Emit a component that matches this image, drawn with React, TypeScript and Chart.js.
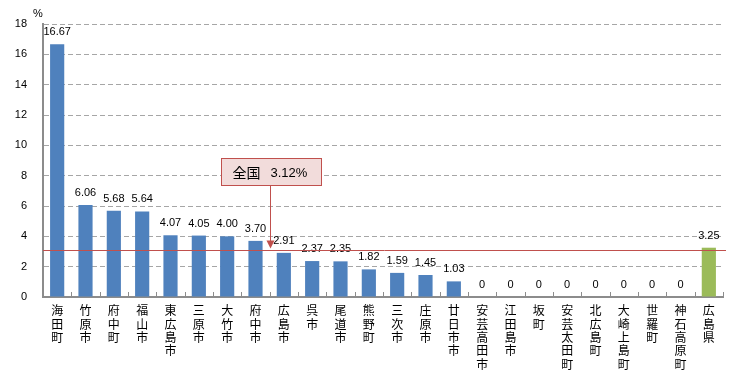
import React, { useEffect, useRef } from "react";
import { Chart, registerables } from "chart.js";

Chart.register(...registerables);

const categories = [
  "海田町", "竹原市", "府中町", "福山市", "東広島市", "三原市", "大竹市", "府中市",
  "広島市", "呉市", "尾道市", "熊野町", "三次市", "庄原市", "廿日市市", "安芸高田市",
  "江田島市", "坂町", "安芸太田町", "北広島町", "大崎上島町", "世羅町", "神石高原町", "広島県",
];
const values = [
  16.67, 6.06, 5.68, 5.64, 4.07, 4.05, 4.0, 3.7, 2.91, 2.37, 2.35, 1.82, 1.59, 1.45, 1.03,
  0, 0, 0, 0, 0, 0, 0, 0, 3.25,
];
const valueLabels = [
  "16.67", "6.06", "5.68", "5.64", "4.07", "4.05", "4.00", "3.70", "2.91", "2.37", "2.35",
  "1.82", "1.59", "1.45", "1.03", "0", "0", "0", "0", "0", "0", "0", "0", "3.25",
];
const nationalAverage = 3.12;
const nationalLabelName = "全国";
const nationalLabelValue = "3.12%";
const unitLabel = "%";
const yTicks = [0, 2, 4, 6, 8, 10, 12, 14, 16, 18];

const BLUE = "#4F81BD";
const GREEN = "#9BBB59";
const RED = "#C0504D";
const JP_FONT = '"Noto Sans CJK JP", "Liberation Sans", sans-serif';
const NUM_FONT = '"Liberation Sans", "DejaVu Sans", sans-serif';

const overlayPlugin = {
  id: "overlay",
  afterDatasetsDraw(chart: any) {
    const { ctx, chartArea, scales } = chart;
    const x = scales.x;
    const y = scales.y;
    ctx.save();

    // inside tick marks on the x-axis at category boundaries
    ctx.strokeStyle = "#8C8C8C";
    ctx.lineWidth = 1;
    const n = categories.length;
    const step = x.getPixelForValue(1) - x.getPixelForValue(0);
    for (let i = 1; i <= n; i++) {
      const px = Math.round(x.getPixelForValue(i) - step / 2) + 0.5;
      ctx.beginPath();
      ctx.moveTo(px, chartArea.bottom);
      ctx.lineTo(px, chartArea.bottom - 5);
      ctx.stroke();
    }

    // value labels
    const meta = chart.getDatasetMeta(0);
    ctx.fillStyle = "#000";
    ctx.font = `11px ${NUM_FONT}`;
    ctx.textAlign = "center";
    ctx.textBaseline = "alphabetic";
    meta.data.forEach((bar: any, i: number) => {
      ctx.fillText(valueLabels[i], bar.x, bar.y - 9);
    });

    // national average line
    const ly = Math.round(y.getPixelForValue(nationalAverage)) + 0.5;
    ctx.strokeStyle = RED;
    ctx.lineWidth = 1;
    ctx.beginPath();
    ctx.moveTo(chartArea.left, ly);
    ctx.lineTo(chartArea.right + 3, ly);
    ctx.stroke();

    // callout box
    const ax = Math.round(x.getPixelForValue(7.5)) + 0.5;
    const boxCenterY = y.getPixelForValue(8.3);
    const boxW = 100;
    const boxH = 27;
    const bx = Math.round(ax - 50) + 0.5;
    const by = Math.round(boxCenterY - boxH / 2) + 0.5;
    ctx.fillStyle = "#F2DCDB";
    ctx.fillRect(bx, by, boxW, boxH);
    ctx.strokeStyle = RED;
    ctx.strokeRect(bx, by, boxW, boxH);

    ctx.fillStyle = "#000";
    ctx.textBaseline = "middle";
    ctx.textAlign = "left";
    ctx.font = `14px ${JP_FONT}`;
    ctx.fillText(nationalLabelName, bx + 11, by + boxH / 2 + 1);
    ctx.font = `13px ${NUM_FONT}`;
    ctx.fillText(nationalLabelValue, bx + 49, by + boxH / 2 + 1);

    // arrow
    const tipY = ly - 2;
    ctx.strokeStyle = RED;
    ctx.beginPath();
    ctx.moveTo(ax, by + boxH);
    ctx.lineTo(ax, tipY - 6);
    ctx.stroke();
    ctx.fillStyle = RED;
    ctx.beginPath();
    ctx.moveTo(ax - 4, tipY - 8);
    ctx.lineTo(ax + 4, tipY - 8);
    ctx.lineTo(ax, tipY);
    ctx.closePath();
    ctx.fill();

    // unit label
    ctx.fillStyle = "#000";
    ctx.font = `11px ${NUM_FONT}`;
    ctx.textAlign = "center";
    ctx.textBaseline = "middle";
    ctx.fillText(unitLabel, chartArea.left - 5, chartArea.top - 10);

    ctx.restore();
  },
};

export default function App() {
  const canvasRef = useRef<HTMLCanvasElement | null>(null);

  useEffect(() => {
    if (!canvasRef.current) return;
    const chart = new Chart(canvasRef.current, {
      type: "bar",
      data: {
        labels: categories.map((c) => c.split("")),
        datasets: [
          {
            data: values,
            backgroundColor: values.map((_, i) => (i === categories.length - 1 ? GREEN : BLUE)),
            barPercentage: 0.5,
            categoryPercentage: 1,
          },
        ],
      },
      options: {
        responsive: false,
        animation: false,
        devicePixelRatio: 1,
        layout: { padding: { top: 24, right: 33, left: 0, bottom: 0 } },
        plugins: { legend: { display: false }, tooltip: { enabled: false }, title: { display: false } },
        scales: {
          x: {
            grid: { display: true, drawOnChartArea: false, drawTicks: false },
            border: { display: true, color: "#8C8C8C", width: 2 },
            ticks: {
              autoSkip: false,
              maxRotation: 0,
              minRotation: 0,
              padding: 7,
              color: "#000",
              font: { family: JP_FONT, size: 12, lineHeight: 1.11 },
            },
            afterFit: (scale: any) => {
              scale.height = 82;
            },
          },
          y: {
            min: 0,
            max: 18,
            afterBuildTicks: (scale: any) => {
              scale.ticks = yTicks.map((v) => ({ value: v }));
            },
            grid: { color: "#A6A6A6", drawTicks: false, lineWidth: 1 },
            border: { display: true, color: "#8C8C8C", width: 2, dash: [5, 3] },
            ticks: {
              padding: 16,
              color: "#000",
              font: { family: NUM_FONT, size: 11 },
            },
            afterFit: (scale: any) => {
              scale.width = 43;
            },
          },
        },
      },
      plugins: [overlayPlugin],
    });
    return () => chart.destroy();
  }, []);

  return (
    <div style={{ position: "fixed", left: 0, top: 0, width: 756, height: 379, background: "#fff" }}>
      <canvas ref={canvasRef} width={756} height={379} style={{ display: "block" }} />
    </div>
  );
}
